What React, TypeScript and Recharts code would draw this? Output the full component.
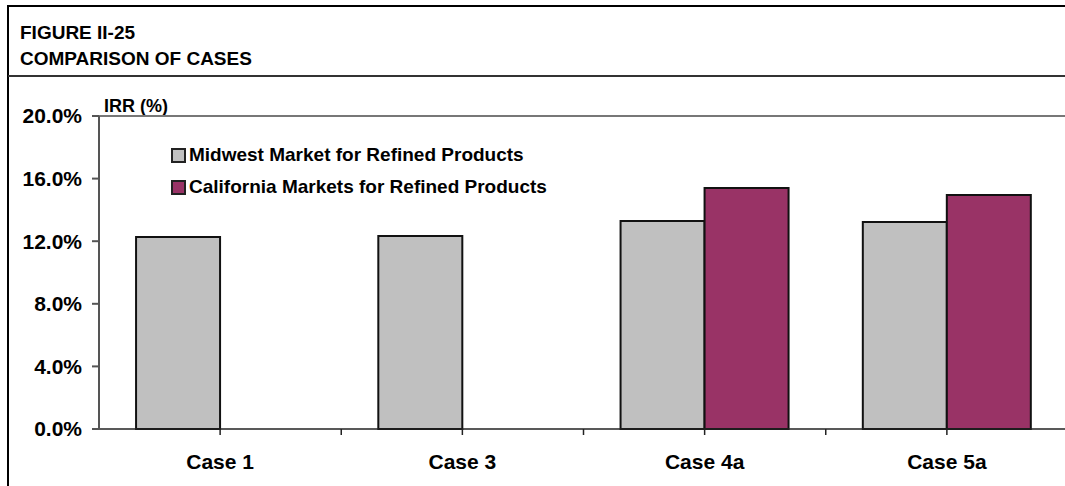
import { BarChart, Bar, XAxis, YAxis, Legend, ReferenceLine } from "recharts";

const cases = ["Case 1", "Case 3", "Case 4a", "Case 5a"];
const midwest = [0.1227, 0.1233, 0.1329, 0.1323];
const california = [null, null, 0.154, 0.1495];
const yTicks = [0, 0.04, 0.08, 0.12, 0.16, 0.2];

const seriesNames = ["Midwest Market for Refined Products", "California Markets for Refined Products"];
const GRAY = "#c0c0c0";
const PLUM = "#993366";
const FONT = "'Liberation Sans', Arial, sans-serif";
const TICK = 6;
const TICK_GAP = 19;

const data = cases.map((c, i) => ({ name: c, midwest: midwest[i], california: california[i] }));

// category label plus the extra tick on the boundary between categories
function CaseTick(props: any) {
  const { x, y, payload, index, visibleTicksCount } = props;
  const axisY = y - TICK - TICK_GAP;
  const edge = x + (payload.offset || 0);
  return (
    <g>
      {index < visibleTicksCount - 1 && (
        <line x1={edge} x2={edge} y1={axisY} y2={axisY + TICK} stroke="#222" strokeWidth={1.5} />
      )}
      <text
        x={x}
        y={y}
        dy="0.71em"
        textAnchor="middle"
        fill="#000"
        fontFamily={FONT}
        fontWeight="bold"
        fontSize={21}
      >
        {payload.value}
      </text>
    </g>
  );
}

function LegendBox() {
  const colors = [GRAY, PLUM];
  return (
    <div style={{ fontFamily: FONT, fontWeight: "bold", fontSize: 19 }}>
      {seriesNames.map((n, i) => (
        <div key={n} style={{ display: "flex", alignItems: "center", height: 32, whiteSpace: "nowrap" }}>
          <span
            style={{
              display: "inline-block",
              width: 11,
              height: 11,
              background: colors[i],
              border: "2px solid #222",
              marginRight: 3,
            }}
          />
          <span style={{ color: "#000" }}>{n}</span>
        </div>
      ))}
    </div>
  );
}

export default function App() {
  return (
    <div style={{ position: "absolute", left: 0, top: 0, width: 1065, height: 486, overflow: "hidden", background: "#fff" }}>
      <div style={{ position: "absolute", left: 7, top: 5, right: 0, height: 2, background: "#000" }} />
      <div style={{ position: "absolute", left: 7, top: 5, width: 2, bottom: 0, background: "#000" }} />
      <div style={{ position: "absolute", left: 8, top: 75, right: 0, height: 2, background: "#333" }} />
      <div
        style={{
          position: "absolute",
          left: 20,
          top: 20,
          fontFamily: FONT,
          fontWeight: "bold",
          fontSize: 19,
          lineHeight: "26px",
          color: "#000",
        }}
      >
        <div>FIGURE II-25</div>
        <div>COMPARISON OF CASES</div>
      </div>
      <div
        style={{ position: "absolute", left: 104, top: 96, fontFamily: FONT, fontWeight: "bold", fontSize: 18, color: "#000" }}
      >
        IRR (%)
      </div>
      <div style={{ position: "absolute", left: 0, top: 0 }}>
        <BarChart
          width={1065}
          height={486}
          data={data}
          margin={{ top: 116, right: -3, bottom: 0, left: 0 }}
          barGap={0}
          barCategoryGap="15.3%"
        >
          <XAxis
            dataKey="name"
            interval={0}
            height={57}
            stroke="#222"
            strokeWidth={1.5}
            tickSize={TICK}
            tickMargin={TICK_GAP}
            tick={<CaseTick />}
          />
          <YAxis
            domain={[0, 0.2]}
            ticks={yTicks}
            width={99}
            stroke="#555"
            strokeWidth={2}
            tickSize={7}
            tickMargin={10}
            tickFormatter={(v: number) => (v * 100).toFixed(1) + "%"}
            tick={{ fill: "#000", fontFamily: FONT, fontWeight: "bold", fontSize: 21 }}
          />
          <ReferenceLine y={0.2} stroke="#777" strokeWidth={2} />
          <Legend
            verticalAlign="middle"
            align="center"
            layout="horizontal"
            content={<LegendBox />}
            wrapperStyle={{ left: 171, top: 139, width: "auto" }}
          />
          <Bar dataKey="midwest" name={seriesNames[0]} fill={GRAY} stroke="#111" strokeWidth={2} isAnimationActive={false} />
          <Bar dataKey="california" name={seriesNames[1]} fill={PLUM} stroke="#111" strokeWidth={2} isAnimationActive={false} />
        </BarChart>
      </div>
    </div>
  );
}
